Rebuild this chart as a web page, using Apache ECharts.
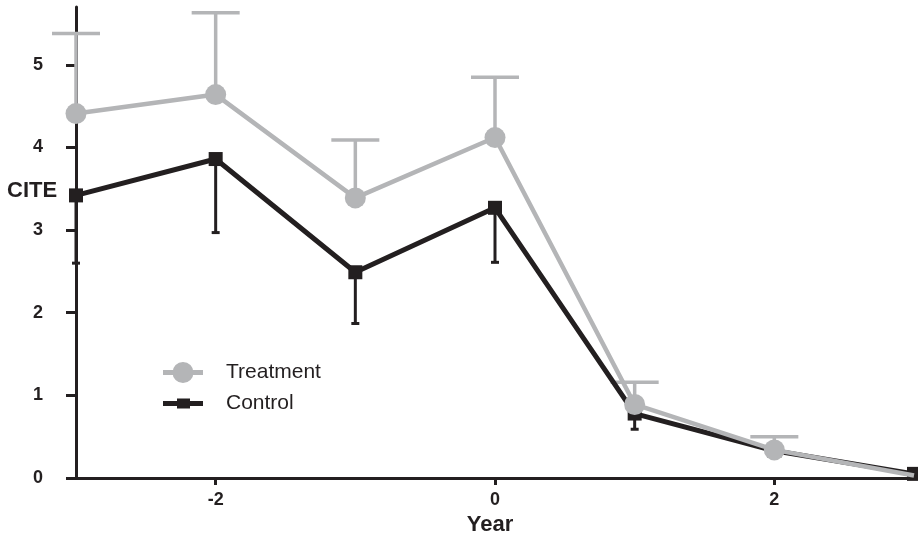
<!DOCTYPE html>
<html>
<head>
<meta charset="utf-8">
<script src="https://cdn.jsdelivr.net/npm/echarts@6/dist/echarts.min.js"></script>
<style>
  html, body { margin: 0; padding: 0; background: #fff; }
  #main { width: 918px; height: 537px; }
</style>
</head>
<body>
<div id="main"></div>
<script>
// data
var years = [-3, -2, -1, 0, 1, 2, 3];
var treatment = [4.41, 4.64, 3.39, 4.12, 0.89, 0.34, 0.03];
var treatUpper = [5.38, 5.63, 4.09, 4.85, 1.16, 0.50, null];
var control = [3.42, 3.86, 2.49, 3.27, 0.78, 0.33, 0.05];
var ctrlLower = [2.60, 2.97, 1.87, 2.61, 0.59, 0.30, null];
var xTicks = [-2, 0, 2];
var yTicks = [0, 1, 2, 3, 4, 5];

var BLACK = '#231f20';
var GRAY = '#b4b5b7';
var FONT = '"Liberation Sans", Arial, sans-serif';

function pairs(ys) {
  var out = [];
  for (var i = 0; i < years.length; i++) out.push([years[i], ys[i]]);
  return out;
}
function errData(mean, bound) {
  var out = [];
  for (var i = 0; i < years.length; i++) {
    if (bound[i] != null) out.push([years[i], mean[i], bound[i]]);
  }
  return out;
}
function errRender(capHalf, color, w) {
  return function (params, api) {
    var p0 = api.coord([api.value(0), api.value(1)]);
    var p1 = api.coord([api.value(0), api.value(2)]);
    return {
      type: 'group',
      children: [
        { type: 'line', shape: { x1: p0[0], y1: p0[1], x2: p1[0], y2: p1[1] },
          style: { stroke: color, lineWidth: w } },
        { type: 'line', shape: { x1: p1[0] - capHalf, y1: p1[1], x2: p1[0] + capHalf, y2: p1[1] },
          style: { stroke: color, lineWidth: w } }
      ]
    };
  };
}

var treatData = pairs(treatment);
// last treatment point sits behind the control square
treatData[treatData.length - 1] = { value: treatData[treatData.length - 1], symbol: 'none' };

// legend icons: line with marker in the middle
var treatIcon = 'path://M0 8h10v5H0z M30 8h10v5H30z M20 0a10.5 10.5 0 1 1 -0.01 0z';
var ctrlIcon = 'path://M0 2.5h14v5H0z M27 2.5h13v5H27z M14 0h13v10H14z';

var myChart = echarts.init(document.getElementById('main'));

var option = {
  animation: false,
  grid: { left: 76, right: 4, top: 7, bottom: 59, containLabel: false, outerBoundsMode: 'none' },
  textStyle: { fontFamily: FONT },
  legend: {
    orient: 'vertical',
    left: 158, top: 357,
    itemWidth: 40, itemHeight: 21, itemGap: 10,
    textStyle: { fontSize: 21, color: BLACK, fontFamily: FONT, padding: [0, 0, 0, 18] },
    data: [
      { name: 'Treatment', icon: treatIcon },
      { name: 'Control', icon: ctrlIcon }
    ]
  },
  graphic: [{
    type: 'text', left: 7, top: 180,
    style: { text: 'CITE', font: 'bold 22px ' + FONT, fill: BLACK }
  }],
  xAxis: {
    type: 'value', min: -3, max: 3, interval: 1,
    name: 'Year', nameLocation: 'middle', nameGap: 33,
    nameTextStyle: { fontSize: 22, fontWeight: 'bold', color: BLACK, fontFamily: FONT, padding: [0, 10, 0, 0] },
    axisLine: { onZero: false, lineStyle: { color: BLACK, width: 3 } },
    axisTick: { customValues: xTicks, length: 7, lineStyle: { color: BLACK, width: 3 } },
    axisLabel: { customValues: xTicks, margin: 13, fontSize: 18, fontWeight: 'bold', color: BLACK, fontFamily: FONT },
    splitLine: { show: false }
  },
  yAxis: {
    type: 'value', min: 0, max: 5.7, interval: 1,
    axisLine: { show: true, onZero: false, lineStyle: { color: BLACK, width: 3 } },
    axisTick: { show: true, customValues: yTicks, length: 10, lineStyle: { color: BLACK, width: 3 } },
    axisLabel: { customValues: yTicks, margin: 33, fontSize: 18, fontWeight: 'bold', color: BLACK, fontFamily: FONT },
    splitLine: { show: false }
  },
  series: [
    {
      name: 'Treatment err', type: 'custom', z: 3,
      renderItem: errRender(24, GRAY, 3.5),
      encode: { x: 0, y: [1, 2] },
      data: errData(treatment, treatUpper)
    },
    {
      name: 'Control err', type: 'custom', z: 4,
      renderItem: errRender(4, BLACK, 3),
      encode: { x: 0, y: [1, 2] },
      data: errData(control, ctrlLower)
    },
    {
      name: 'Control', type: 'line', z: 5,
      data: pairs(control),
      symbol: 'rect', symbolSize: 14,
      lineStyle: { color: BLACK, width: 5 },
      itemStyle: { color: BLACK },
      clip: false
    },
    {
      name: 'Treatment', type: 'line', z: 6,
      data: treatData,
      symbol: 'circle', symbolSize: 21,
      lineStyle: { color: GRAY, width: 4.5 },
      itemStyle: { color: GRAY },
      clip: false
    }
  ]
};

myChart.setOption(option);
</script>
</body>
</html>
